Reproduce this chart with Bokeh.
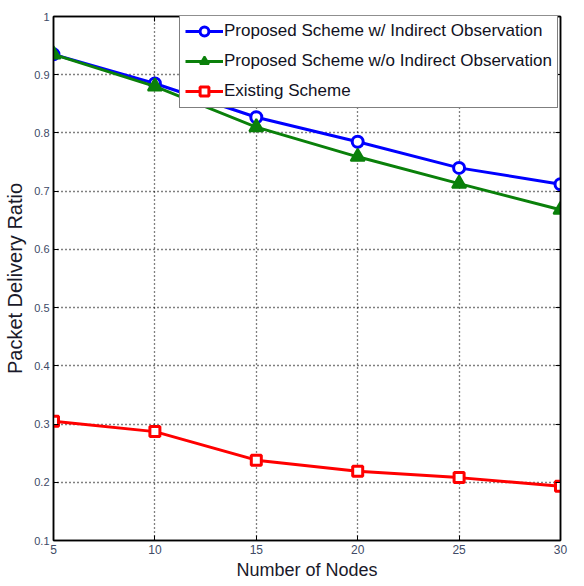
from bokeh.plotting import figure
from bokeh.models import Range1d, LinearAxis, FixedTicker, Legend, LegendItem, CustomJSTickFormatter
from bokeh.embed import file_html
from bokeh.resources import INLINE

# ---- data ----
nodes = [5, 10, 15, 20, 25, 30]
with_indirect = [0.935, 0.885, 0.827, 0.785, 0.740, 0.712]
without_indirect = [0.935, 0.880, 0.810, 0.759, 0.713, 0.668]
existing = [0.305, 0.287, 0.238, 0.219, 0.208, 0.193]
x_ticks = [5, 10, 15, 20, 25, 30]
y_ticks = [0.1, 0.2, 0.3, 0.4, 0.5, 0.6, 0.7, 0.8, 0.9, 1.0]
series_names = ["Proposed Scheme w/ Indirect Observation",
                "Proposed Scheme w/o Indirect Observation",
                "Existing Scheme"]

FONT = "Liberation Sans"
TICK_COLOR = "#404a66"

p = figure(width=568, height=578, output_backend="svg", toolbar_location=None,
           x_range=Range1d(5, 30), y_range=Range1d(0.1, 1.0),
           min_border_left=53, min_border_right=8, min_border_top=16, min_border_bottom=38)
p.frame_width = 507
p.frame_height = 524

p.outline_line_color = "black"
p.outline_line_width = 1.5
p.background_fill_color = "white"
p.border_fill_color = "white"

for ax in [p.xaxis[0], p.yaxis[0]]:
    ax.major_tick_in = 5
    ax.major_tick_out = 0
    ax.minor_tick_line_color = None
    ax.axis_line_color = "black"
    ax.axis_line_width = 1.5
    ax.major_tick_line_color = "black"
    ax.major_label_text_font = FONT
    ax.major_label_text_color = TICK_COLOR
    ax.axis_label_text_font = FONT
    ax.axis_label_text_font_style = "normal"
    ax.axis_label_text_color = "#1a1a2a"
    ax.major_label_standoff = 4

p.xaxis[0].major_label_text_font_size = "12px"
p.yaxis[0].major_label_text_font_size = "11px"
p.xaxis[0].axis_label_text_font_size = "18px"
p.yaxis[0].axis_label_text_font_size = "20px"
p.xaxis[0].axis_label_standoff = 3
p.yaxis[0].axis_label_standoff = 5

p.xaxis[0].ticker = FixedTicker(ticks=x_ticks)
p.yaxis[0].ticker = FixedTicker(ticks=y_ticks)
p.yaxis[0].major_label_overrides = {1: "1", 1.0: "1"}
p.xaxis[0].axis_label = "Number of Nodes"
p.yaxis[0].axis_label = "Packet Delivery Ratio"

# mirrored axes (ticks only)
right_ax = LinearAxis(ticker=FixedTicker(ticks=y_ticks))
top_ax = LinearAxis(ticker=FixedTicker(ticks=x_ticks))
for ax in [right_ax, top_ax]:
    ax.major_tick_in = 5
    ax.major_tick_out = 0
    ax.minor_tick_line_color = None
    ax.formatter = CustomJSTickFormatter(code="return ''")
    ax.major_label_standoff = 0
    ax.axis_line_color = "black"
    ax.axis_line_width = 1.5
p.add_layout(right_ax, "right")
p.add_layout(top_ax, "above")

for g in [p.xgrid[0], p.ygrid[0]]:
    g.grid_line_color = "black"
    g.grid_line_dash = "1 3"
    g.grid_line_width = 1.3
p.xgrid[0].ticker = FixedTicker(ticks=x_ticks)
p.ygrid[0].ticker = FixedTicker(ticks=y_ticks)

BLUE = "#0000ff"
GREEN = "#0a800a"
RED = "#ff0000"

l1 = p.line(nodes, with_indirect, line_color=BLUE, line_width=3)
m1 = p.scatter(nodes, with_indirect, marker="circle", size=11, line_color=BLUE,
               fill_color="white", line_width=3)
l2 = p.line(nodes, without_indirect, line_color=GREEN, line_width=3)
m2 = p.scatter(nodes, without_indirect, marker="triangle", size=14, line_color=GREEN,
               fill_color=GREEN, line_width=2)
l3 = p.line(nodes, existing, line_color=RED, line_width=3)
m3 = p.scatter(nodes, existing, marker="square", size=10, line_color=RED,
               fill_color="white", line_width=3)

legend = Legend(items=[LegendItem(label=series_names[0], renderers=[l1, m1]),
                       LegendItem(label=series_names[1], renderers=[l2, m2]),
                       LegendItem(label=series_names[2], renderers=[l3, m3])],
                location=(126, 432))
legend.label_text_font = FONT
legend.label_text_font_size = "17px"
legend.label_text_color = "#111122"
legend.label_standoff = 1
legend.glyph_width = 38
legend.glyph_height = 22
legend.label_height = 22
legend.spacing = 8
legend.padding = 5
legend.margin = 0
legend.border_line_color = "black"
legend.border_line_width = 1.5
legend.background_fill_color = "white"
legend.background_fill_alpha = 1.0
p.add_layout(legend, "center")

open("out.html", "w").write(file_html(p, INLINE))
